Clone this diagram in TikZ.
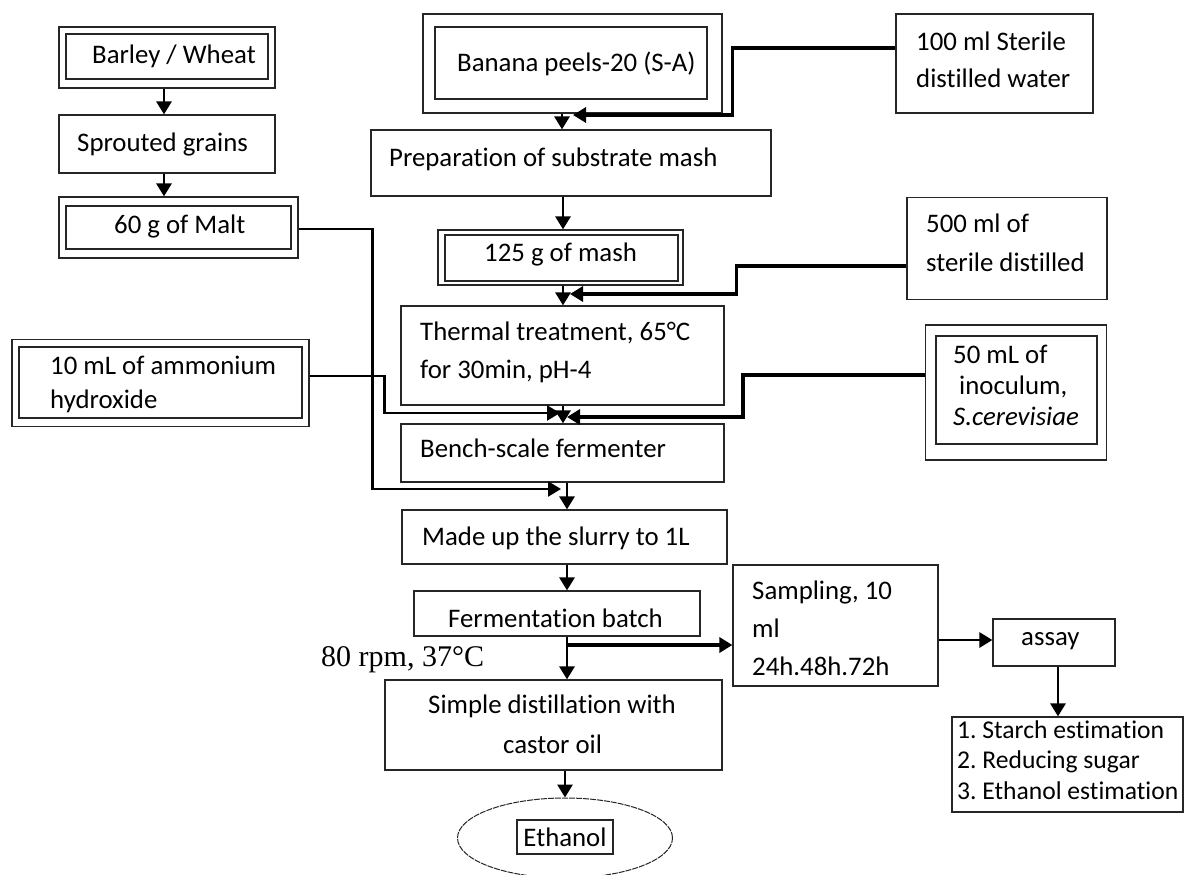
\documentclass[tikz,border=0pt]{standalone}
\usepackage{fontspec}
\setmainfont{Carlito}[Ligatures=NoCommon]
\newfontfamily\timesf{Liberation Serif}
\usetikzlibrary{arrows.meta,shapes.geometric}
\frenchspacing
\begin{document}
\begin{tikzpicture}[x=1pt,y=-1pt,
  box/.style={draw=black!85,line width=1.2pt,rectangle,inner sep=0pt},
  inbox/.style={draw=black!85,line width=1.2pt},
  txt/.style={anchor=base west,inner sep=0pt,font=\fontsize{26.8}{32}\selectfont},
  ltxt/.style={anchor=base west,inner sep=0pt,font=\fontsize{25.6}{30}\selectfont},
  arr/.style={-{Triangle[width=15pt,length=13pt]},line width=2.9pt},
  thk/.style={-{Triangle[width=15pt,length=13pt]},line width=3.8pt},
  thn/.style={-{Triangle[width=15pt,length=13pt]},line width=2.5pt}]
\clip (0,0) rectangle (1184,875);
\fill[white] (0,0) rectangle (1184,875);

% ---- boxes ----
\node[box,minimum width=216pt,minimum height=61pt] (barley) at (167,57.5) {};
\draw[inbox] (66,34) rectangle (268,79);
\node[box,minimum width=216pt,minimum height=58pt] (sprout) at (167,144) {};
\node[box,minimum width=239pt,minimum height=61pt] (malt) at (178.5,227.5) {};
\draw[inbox] (66,206) rectangle (291,249);
\node[box,minimum width=297pt,minimum height=87pt] (ammon) at (160.5,383) {};
\draw[inbox] (19,347) rectangle (302,418);
\node[box,minimum width=299pt,minimum height=99pt] (banana) at (572.5,63.5) {};
\draw[inbox] (435,27) rectangle (707,99);
\node[box,minimum width=197pt,minimum height=99pt] (water100) at (994.5,63.5) {};
\node[box,minimum width=400pt,minimum height=66pt] (prep) at (571,163) {};
\node[box,minimum width=245pt,minimum height=55pt] (mash) at (560.5,257.5) {};
\draw[inbox] (445,235) rectangle (678,281);
\node[box,minimum width=200pt,minimum height=102pt] (water500) at (1007,248.5) {};
\node[box,minimum width=323pt,minimum height=99pt] (thermal) at (562.5,355.5) {};
\node[box,minimum width=181pt,minimum height=135pt] (inoc) at (1016,392.5) {};
\draw[inbox] (936,336) rectangle (1097,444);
\node[box,minimum width=323pt,minimum height=58pt] (bench) at (562.5,453) {};
\node[box,minimum width=325pt,minimum height=54pt] (madeup) at (564.5,537) {};
\node[box,minimum width=286pt,minimum height=45pt] (ferm) at (557,613.5) {};
\node[box,minimum width=337pt,minimum height=90pt] (simple) at (553.5,725) {};
\node[draw=black!85,line width=1pt,dash pattern=on 6pt off 1pt,ellipse,inner sep=0pt,minimum width=215pt,minimum height=80pt] (eth) at (565,838) {};
\node[box,minimum width=96pt,minimum height=34pt,font=\fontsize{26.8}{32}\selectfont] (ethbox) at (565,837) {Ethanol};
\node[box,minimum width=205pt,minimum height=121pt] (sampling) at (835.5,625.5) {};
\node[box,minimum width=122pt,minimum height=47pt] (assay) at (1054,642.5) {};
\node[box,minimum width=231pt,minimum height=95pt] (list) at (1067.5,764.5) {};

% ---- texts ----
\node[txt] (t1) at (92,64) {Barley / Wheat};
\node[txt] (t2) at (77,151) {Sprouted grains};
\node[txt] (t3) at (114,233) {60 g of Malt};
\node[txt] (t4) at (457,71) {Banana peels-20 (S-A)};
\node[txt] (t5) at (389,166) {Preparation of substrate mash};
\node[txt] (t6) at (484,261) {125 g of mash};
\node[txt] (t7) at (916,51) {100 ml Sterile};
\node[txt] (t8) at (916,88) {distilled water};
\node[txt] (t9) at (926,232) {500 ml of};
\node[txt] (t10) at (926,271) {sterile distilled};
\node[txt] (t11) at (953,363) {50 mL of};
\node[txt] (t12) at (959,394) {inoculum,};
\node[txt] (t13) at (953,425) {\itshape S.cerevisiae};
\node[txt] (t14) at (420,340) {Thermal treatment, 65°C};
\node[txt] (t15) at (420,378) {for 30min, pH-4};
\node[txt] (t16) at (50,374) {10 mL of ammonium};
\node[txt] (t17) at (50,408) {hydroxide};
\node[txt] (t18) at (420,457) {Bench-scale fermenter};
\node[txt] (t19) at (422,545) {Made up the slurry to 1L};
\node[txt] (t20) at (448,627) {Fermentation batch};
\node[txt,font=\timesf\fontsize{30}{34}\selectfont] (t21) at (321,666) {80 rpm, 37°C};
\node[txt] (t22) at (428,713) {Simple distillation with};
\node[txt] (t23) at (503,753) {castor oil};
\node[txt] (t24) at (752,599) {Sampling, 10};
\node[txt] (t25) at (752,637) {ml};
\node[txt] (t26) at (752,675) {24h.48h.72h};
\node[txt] (t27) at (1021,645) {assay};
\node[ltxt] (t28) at (957,738) {1. Starch estimation};
\node[ltxt] (t29) at (957,768) {2. Reducing sugar};
\node[ltxt] (t30) at (957,799) {3. Ethanol estimation};

% ---- junction points ----
\coordinate (j1) at (573,115);
\coordinate (j2) at (570,294);
\coordinate (j3) at (567,417);
\coordinate (j4) at (560,413);
\coordinate (j5) at (561,489);
\coordinate (fb) at (567,645);

% ---- connectors ----
\draw[arr] ([xshift=-3pt]barley.south) -- ([xshift=-3pt]sprout.north);
\draw[arr] ([xshift=-3pt]sprout.south) -- ([xshift=-14.5pt]malt.north);
\draw[arr] ([xshift=-10.5pt]banana.south) -- ([xshift=-9pt]prep.north);
\draw[thk] ([yshift=15.5pt]water100.west) -- ++(-163pt,0) |- (j1);
\draw[arr] ([xshift=-8pt]prep.south) -- ([xshift=2.5pt]mash.north);
\draw[thk] ([yshift=-17.5pt]water500.west) -- ++(-170pt,0) |- (j2);
\draw[arr] ([xshift=2.5pt]mash.south) -- ([xshift=0.5pt]thermal.north);
\draw[arr] ([xshift=0.5pt]thermal.south) -- ([xshift=0.5pt]bench.north);
\draw[thk] ([yshift=17.5pt]inoc.west) -- ++(-182pt,0) |- (j3);
\draw[thn] ([yshift=7pt]ammon.east) -- ++(75pt,0) |- (j4);
\draw[thn] ([yshift=-1.5pt]malt.east) -- ++(74pt,0) |- (j5);
\draw[arr] ([xshift=4.5pt]bench.south) -- ([xshift=2.5pt]madeup.north);
\draw[arr] ([xshift=2.5pt]madeup.south) -- ([xshift=10pt]ferm.north);
\draw[arr] ([xshift=10pt]ferm.south) -- ([xshift=13.5pt]simple.north);
\draw[thk] (fb) -- (fb -| sampling.west);
\draw[arr] ([yshift=-14.5pt]sampling.east) -- ([yshift=2.5pt]assay.west);
\draw[arr] ([xshift=4pt]assay.south) -- ([xshift=-9.5pt]list.north);
\draw[arr] ([xshift=11.5pt]simple.south) -- (eth.north);
\end{tikzpicture}
\end{document}
